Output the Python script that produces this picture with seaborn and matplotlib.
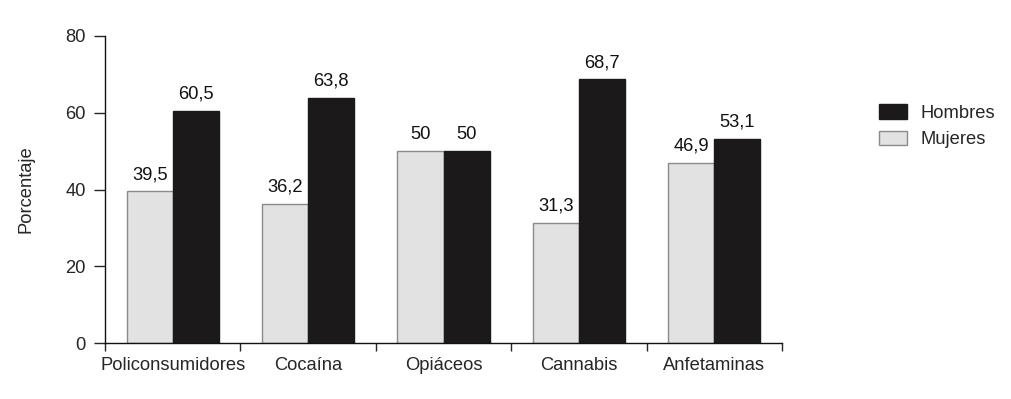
import numpy as np
import pandas as pd
import matplotlib
matplotlib.use("Agg")
import matplotlib.pyplot as plt
from matplotlib.patches import Patch
import seaborn as sns

sns.set_style("ticks")
plt.rcParams['font.family'] = ['Liberation Sans', 'DejaVu Sans']

categorias = ['Policonsumidores', 'Cocaína', 'Opiáceos', 'Cannabis', 'Anfetaminas']
mujeres = [39.5, 36.2, 50, 31.3, 46.9]
hombres = [60.5, 63.8, 50, 68.7, 53.1]
y_ticks = [0, 20, 40, 60, 80]

df = pd.DataFrame({
    'categoria': categorias * 2,
    'sexo': ['Mujeres'] * len(categorias) + ['Hombres'] * len(categorias),
    'valor': mujeres + hombres,
})

col_muj = '#e2e2e2'
col_hom = '#1b1919'
fs = 13.2

fig = plt.figure(figsize=(10.11, 3.99), dpi=100)
ax = fig.add_axes([105 / 1011, 1 - 343 / 399, (782 - 105) / 1011, (343 - 36) / 399])

sns.barplot(data=df, x='categoria', y='valor', hue='sexo', hue_order=['Mujeres', 'Hombres'],
            palette=[col_muj, col_hom], width=0.68, gap=0, ax=ax, legend=False,
            saturation=1)

for cont, ec in zip(ax.containers, ['#8a8a8a', col_hom]):
    for bar in cont:
        bar.set_edgecolor(ec)
        bar.set_linewidth(1)
    labels = [('%g' % v).replace('.', ',') for v in cont.datavalues]
    ax.bar_label(cont, labels=labels, padding=6, fontsize=fs, color='#111111')

ax.set_xlim(-0.5, len(categorias) - 0.5)
ax.set_ylim(0, 80)
ax.set_yticks(y_ticks)
ax.set_xticks(np.arange(-0.5, len(categorias), 1.0))
ax.set_xticklabels([])
ax.set_xticks(range(len(categorias)), minor=True)
ax.set_xticklabels(categorias, minor=True)
ax.tick_params(axis='x', which='major', length=6, width=1, direction='out')
ax.tick_params(axis='x', which='minor', length=0, pad=10, labelsize=fs)
ax.tick_params(axis='y', length=8, width=1, direction='out', labelsize=fs, pad=6)
ax.set_xlabel('')
ax.set_ylabel('Porcentaje', fontsize=fs, labelpad=22)
for s in ['top', 'right']:
    ax.spines[s].set_visible(False)
for s in ['left', 'bottom']:
    ax.spines[s].set_color('#111111')
    ax.spines[s].set_linewidth(1)

handles = [Patch(facecolor=col_hom, edgecolor=col_hom, label='Hombres'),
           Patch(facecolor=col_muj, edgecolor='#8a8a8a', label='Mujeres')]
fig.legend(handles=handles, loc='upper left', bbox_to_anchor=(879 / 1011, 1 - 104 / 399),
           frameon=False, fontsize=fs, handlelength=1.55, handleheight=0.85,
           handletextpad=0.7, labelspacing=0.5, borderpad=0, borderaxespad=0)

fig.savefig('out.png', dpi=100)
